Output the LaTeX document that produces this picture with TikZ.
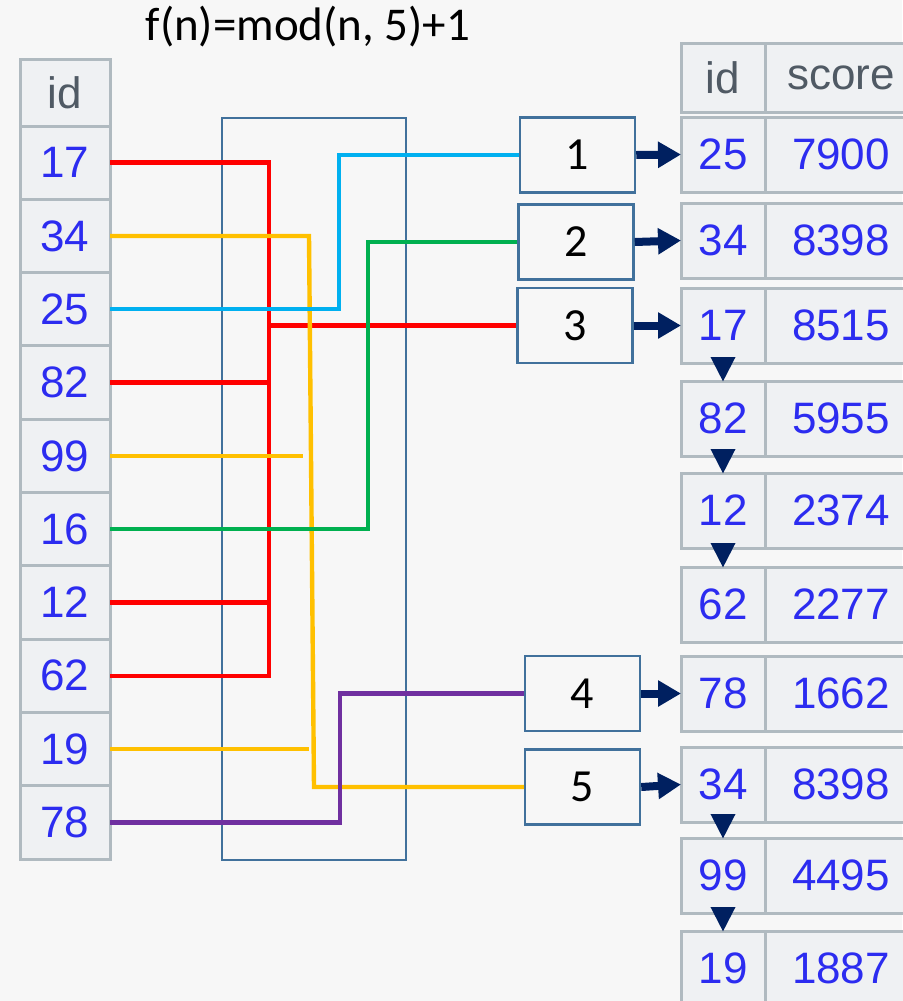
\documentclass[tikz,border=0pt]{standalone}
\usepackage{fontspec}
\setmainfont{Carlito}
\newfontfamily\tabfont{Liberation Sans}
\usetikzlibrary{positioning,arrows.meta}
\definecolor{bgcol}{RGB}{247,247,247}
\definecolor{cellfill}{RGB}{239,241,243}
\definecolor{cellline}{RGB}{176,186,192}
\definecolor{idblue}{RGB}{44,44,240}
\definecolor{headgray}{RGB}{80,90,100}
\definecolor{boxline}{RGB}{65,113,156}
\definecolor{navy}{RGB}{0,32,96}
\definecolor{hred}{RGB}{255,0,0}
\definecolor{hyellow}{RGB}{255,192,0}
\definecolor{hblue}{RGB}{0,176,240}
\definecolor{hgreen}{RGB}{0,176,80}
\definecolor{hpurple}{RGB}{112,48,160}

\begin{document}
\begin{tikzpicture}[x=1pt, y=-1pt,
  cell/.style={draw=cellline, line width=3pt, fill=cellfill, outer sep=0pt, inner sep=0pt,
    text=idblue, font=\tabfont\fontsize{44}{44}\selectfont},
  hcell/.style={cell, text=headgray},
  lcell/.style={cell, minimum width=90pt, minimum height=73.3pt},
  rcell/.style={cell, minimum width=84pt, minimum height=75pt},
  scell/.style={cell, minimum width=152pt, minimum height=75pt},
  slot/.style={draw=boxline, line width=2.5pt, fill=bgcol, minimum width=115pt, minimum height=75pt,
    inner sep=0pt, font=\fontsize{46}{46}\selectfont},
  wire/.style={line width=4.4pt},
  flow/.style={draw=navy, line width=8pt, -{Triangle[length=23pt, width=25pt]}},
  drop/.style={draw=navy, line width=8pt, -{Triangle[length=25pt, width=23pt]}},
]
\fill[bgcol] (0,0) rectangle (902,1001);
\useasboundingbox (0,0) rectangle (902,1001);

% title
\node[font=\fontsize{47}{47}\selectfont] (title) at (308,27) {f(n)=mod(n, 5)+1};

% input table
\node[hcell, minimum width=90pt, minimum height=67pt] (lh) at (65,92.5) {id};
\node[lcell, below=0pt of lh] (l17) {17};
\node[lcell, below=0pt of l17] (l34) {34};
\node[lcell, below=0pt of l34] (l25) {25};
\node[lcell, below=0pt of l25] (l82) {82};
\node[lcell, below=0pt of l82] (l99) {99};
\node[lcell, below=0pt of l99] (l16) {16};
\node[lcell, below=0pt of l16] (l12) {12};
\node[lcell, below=0pt of l12] (l62) {62};
\node[lcell, below=0pt of l62] (l19) {19};
\node[lcell, below=0pt of l19] (l78) {78};

% hash function box
\node[draw=boxline, line width=2.5pt, minimum width=184pt, minimum height=742pt] (hash) at (314,489) {};

% buckets
\node[slot] (b1) at (577.5,155) {1};
\node[slot] (b2) at (576,242) {2};
\node[slot] (b3) at (575,325.5) {3};
\node[slot] (b4) at (582.5,693.5) {4};
\node[slot] (b5) at (582.5,787) {5};

% output table
\node[hcell, minimum width=84pt, minimum height=69pt] (rh) at (723,77.5) {id};
\node[hcell, minimum width=152pt, minimum height=69pt, right=0pt of rh] (rhs) {score};
\node[rcell, below=5pt of rh] (r1) {25};
\node[scell, right=0pt of r1] (s1) {7900};
\node[rcell, below=11pt of r1] (r2) {34};
\node[scell, right=0pt of r2] (s2) {8398};
\node[rcell, below=10pt of r2] (r3) {17};
\node[scell, right=0pt of r3] (s3) {8515};
\node[rcell, below=18pt of r3] (r4) {82};
\node[scell, right=0pt of r4] (s4) {5955};
\node[rcell, below=17pt of r4] (r5) {12};
\node[scell, right=0pt of r5] (s5) {2374};
\node[rcell, below=19pt of r5] (r6) {62};
\node[scell, right=0pt of r6] (s6) {2277};
\node[rcell, below=14pt of r6] (r7) {78};
\node[scell, right=0pt of r7] (s7) {1662};
\node[rcell, below=16pt of r7] (r8) {34};
\node[scell, right=0pt of r8] (s8) {8398};
\node[rcell, below=16pt of r8] (r9) {99};
\node[scell, right=0pt of r9] (s9) {4495};
\node[rcell, below=18pt of r9] (r10) {19};
\node[scell, right=0pt of r10] (s10) {1887};

% wires into the buckets
\coordinate (rbus) at (269,0);
\coordinate (bbus) at (339,0);
\coordinate (gbus) at (368,0);
\coordinate (pbus) at (340,0);
\coordinate (ytop) at (309,0);
\coordinate (ybot) at (314,0);
\coordinate (yend) at (303,0);

\draw[wire, hred] (l17.east) -- (l17.east -| rbus) -- (l62.east -| rbus) -- (l62.east);
\draw[wire, hred] (l82.east) -- (l82.east -| rbus);
\draw[wire, hred] (l12.east) -- (l12.east -| rbus);
\draw[wire, hred] (b3.west -| rbus) -- (b3.west);
\draw[wire, hyellow] (l34.east) -- (l34.east -| ytop) -- (b5.west -| ybot) -- (b5.west);
\draw[wire, hyellow] (l99.east) -- (l99.east -| yend);
\draw[wire, hyellow] (l19.east) -- (l19.east -| ytop);
\draw[wire, hblue] (l25.east) -- (l25.east -| bbus) |- (b1.west);
\draw[wire, hgreen] (l16.east) -- (l16.east -| gbus) |- (b2.west);
\draw[wire, hpurple] (l78.east) -- (l78.east -| pbus) |- (b4.west);

% buckets to chains
\draw[flow] (b1.east) -- (r1.west);
\draw[flow] (b2.east) -- (r2.west);
\draw[flow] (b3.east) -- (r3.west);
\draw[flow] (b4.east) -- (r7.west);
\draw[flow] (b5.east) -- (r8.west);
\draw[drop] ([yshift=24pt]r4.north) -- ([yshift=-1pt]r4.north);
\draw[drop] ([yshift=24pt]r5.north) -- ([yshift=-1pt]r5.north);
\draw[drop] ([yshift=24pt]r6.north) -- ([yshift=-1pt]r6.north);
\draw[drop] ([yshift=24pt]r9.north) -- ([yshift=-1pt]r9.north);
\draw[drop] ([yshift=24pt]r10.north) -- ([yshift=-1pt]r10.north);
\end{tikzpicture}
\end{document}
